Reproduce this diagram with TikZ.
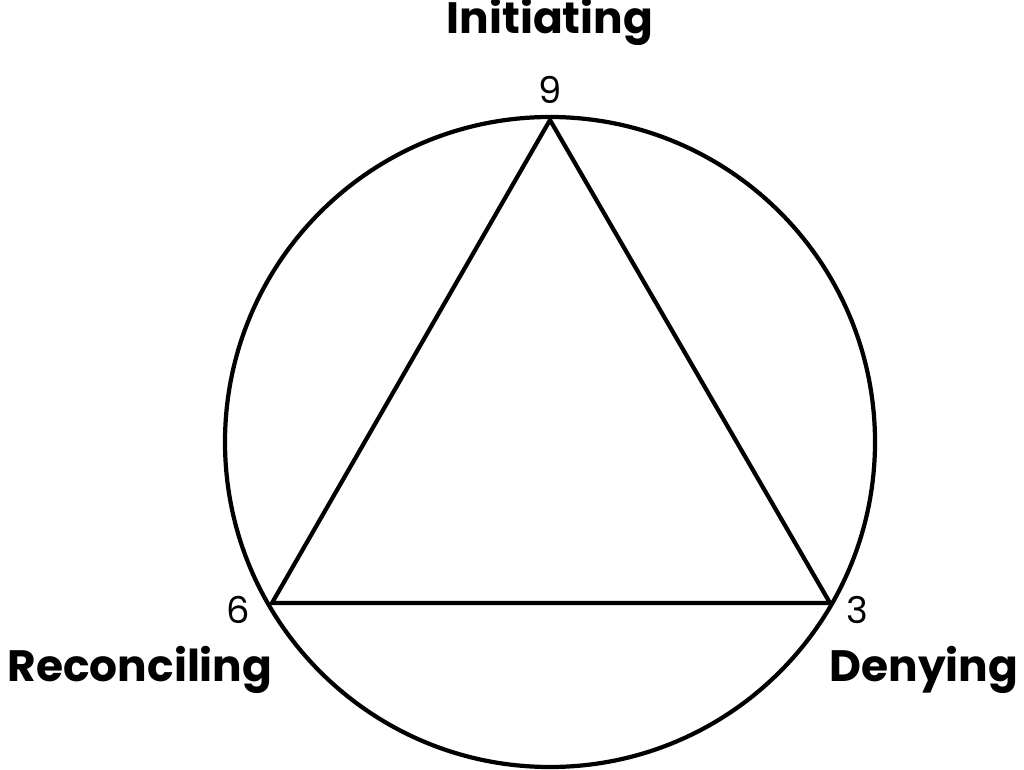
\documentclass[tikz,border=0pt]{standalone}
\usepackage{fontspec}
\setmainfont{Poppins}
\begin{document}
\begin{tikzpicture}[x=0.02cm,y=-0.02cm,line width=2.4pt,
  force/.style={font=\bfseries\fontsize{25}{30}\selectfont},
  num/.style={font=\fontsize{21}{25}\selectfont}]
\useasboundingbox (0,0) rectangle (1024,770);
\draw (550,442) circle [radius=325];
\coordinate (top) at (550,120);
\coordinate (left) at (272,603);
\coordinate (right) at (830,603);
\draw[line join=round] (top) -- (right) -- (left) -- cycle;
\node[num] (n9) at (550,90) {9};
\node[num] (n6) at (238,610) {6};
\node[num] (n3) at (857,610) {3};
\node[force] (ini) at (550,22) {Initiating};
\node[force] (rec) at (140,670) {Reconciling};
\node[force] (den) at (924,670) {Denying};
\end{tikzpicture}
\end{document}
